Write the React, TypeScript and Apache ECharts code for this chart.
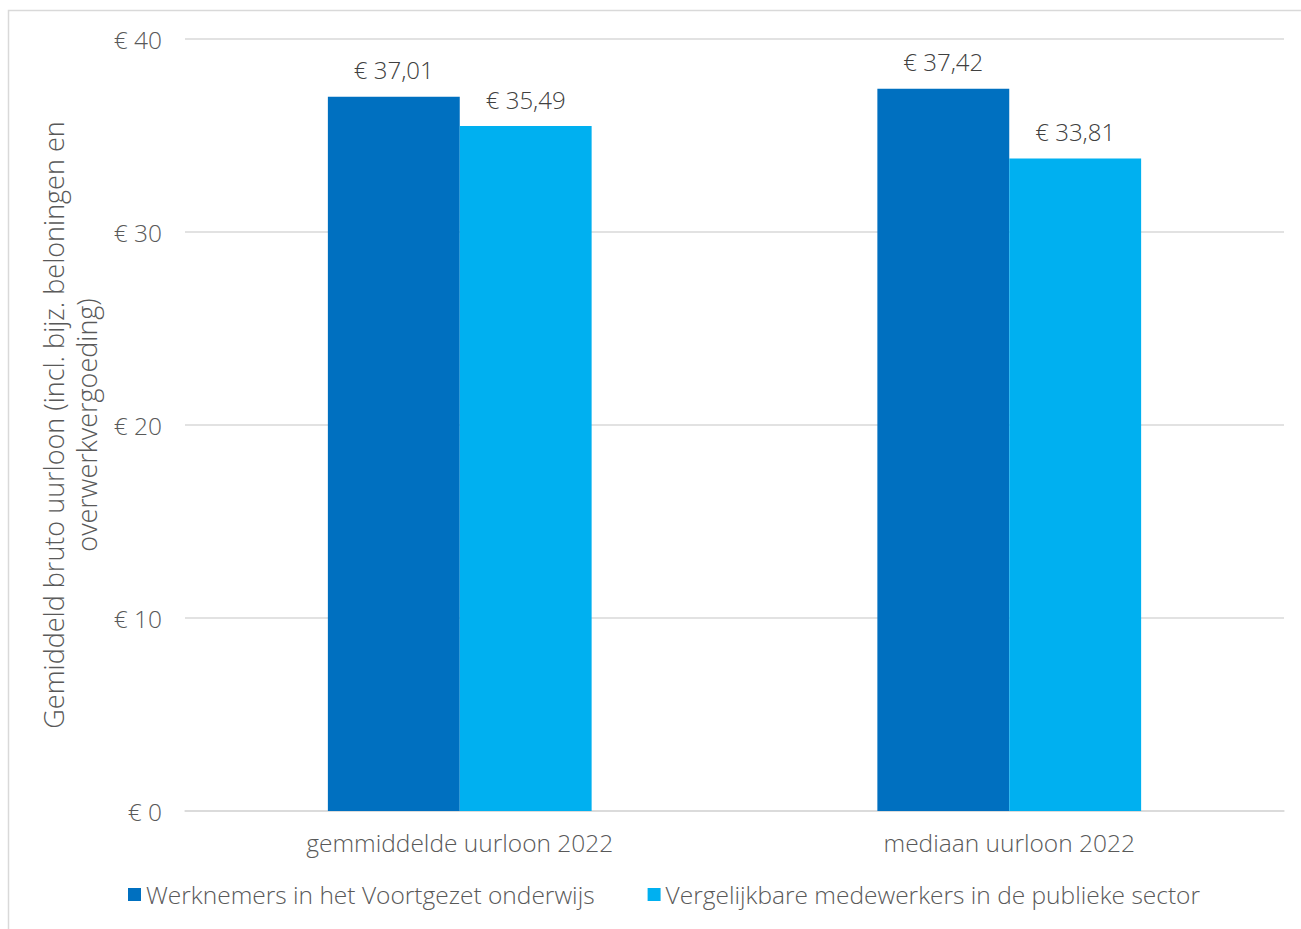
import React, { useEffect, useRef } from "react";
import * as echarts from "echarts";

const categories = ["gemmiddelde uurloon 2022", "mediaan uurloon 2022"];
const seriesNames = [
  "Werknemers in het Voortgezet onderwijs",
  "Vergelijkbare medewerkers in de publieke sector",
];
const voValues = [37.01, 37.42];
const publiekValues = [35.49, 33.81];
const yTicks = { min: 0, max: 40, interval: 10 };
const yAxisName = "Gemiddeld bruto uurloon (incl. bijz. beloningen en\noverwerkvergoeding)";

const FONT = "Open Sans";
const W = 300;
const euro = (v: number, dec: boolean) =>
  "€ " + (dec ? v.toFixed(2).replace(".", ",") : String(v));

export default function App() {
  const ref = useRef<HTMLDivElement>(null);
  useEffect(() => {
    if (!ref.current) return;
    const chart = echarts.init(ref.current, null, { renderer: "svg" });
    const labelCfg = {
      show: true,
      position: "top",
      distance: 15,
      color: "#404040",
      fontSize: 24,
      fontWeight: W,
      fontFamily: FONT,
      formatter: (p: any) => euro(p.value, true),
    };
    chart.setOption({
      animation: false,
      backgroundColor: "#ffffff",
      textStyle: { fontFamily: FONT },
      graphic: [
        {
          type: "rect",
          shape: { x: 8.5, y: 10.5, width: 1400, height: 1000 },
          style: { fill: "none", stroke: "#d9d9d9", lineWidth: 1.5 },
          silent: true,
        },
      ],
      grid: { left: 185, right: 17, top: 39, bottom: 118 },
      legend: {
        data: seriesNames,
        bottom: 17,
        left: 123,
        icon: "rect",
        itemWidth: 13,
        itemHeight: 13,
        itemGap: 53,
        textStyle: { color: "#595959", fontSize: 24.5, fontWeight: W, fontFamily: FONT },
      },
      xAxis: {
        type: "category",
        data: categories,
        axisLine: { lineStyle: { color: "#d9d9d9", width: 1.5 } },
        axisTick: { show: false },
        axisLabel: { color: "#595959", fontSize: 24.5, fontWeight: W, margin: 19, fontFamily: FONT },
      },
      yAxis: {
        type: "value",
        min: yTicks.min,
        max: yTicks.max,
        interval: yTicks.interval,
        name: yAxisName,
        nameLocation: "middle",
        nameRotate: 90,
        nameGap: 74,
        nameTextStyle: {
          color: "#595959",
          fontSize: 27,
          fontWeight: W,
          lineHeight: 33,
          fontFamily: FONT,
        },
        axisLine: { show: false },
        axisTick: { show: false },
        splitLine: { lineStyle: { color: "#d9d9d9", width: 1.5 } },
        axisLabel: {
          color: "#595959",
          fontSize: 24.5,
          fontWeight: W,
          margin: 23,
          fontFamily: FONT,
          formatter: (v: number) => euro(v, false),
        },
      },
      series: [
        {
          name: seriesNames[0],
          type: "bar",
          data: voValues,
          barGap: "0%",
          barCategoryGap: "52%",
          itemStyle: { color: "#0070C0" },
          label: labelCfg,
        },
        {
          name: seriesNames[1],
          type: "bar",
          data: publiekValues,
          barGap: "0%",
          barCategoryGap: "52%",
          itemStyle: { color: "#00B0F0" },
          label: labelCfg,
        },
      ],
    });
    return () => chart.dispose();
  }, []);
  return (
    <div
      ref={ref}
      style={{ position: "fixed", left: 0, top: 0, width: 1301, height: 929 }}
    />
  );
}
